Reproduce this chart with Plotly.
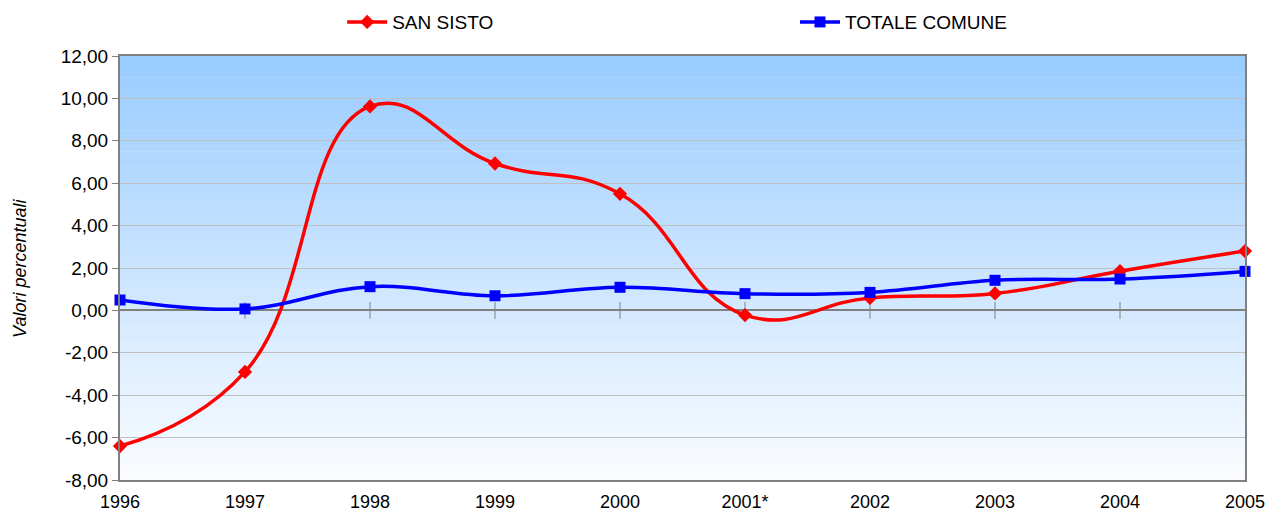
import plotly.graph_objects as go

years = ["1996", "1997", "1998", "1999", "2000", "2001*", "2002", "2003", "2004", "2005"]
san_sisto = [-6.40, -2.90, 9.62, 6.93, 5.50, -0.22, 0.59, 0.80, 1.85, 2.80]
totale_comune = [0.49, 0.07, 1.12, 0.69, 1.09, 0.79, 0.85, 1.42, 1.48, 1.84]
y_ticks = [-8, -6, -4, -2, 0, 2, 4, 6, 8, 10, 12]
y_ticktext = ["-8,00", "-6,00", "-4,00", "-2,00", "0,00", "2,00", "4,00", "6,00", "8,00", "10,00", "12,00"]

xs = list(range(len(years)))
FONT = "Liberation Sans, Arial, sans-serif"
FS = 19

fig = go.Figure()

# cross tick marks on the zero line
fig.add_trace(go.Scatter(
    x=xs[1:-1], y=[0] * (len(xs) - 2), mode="markers",
    marker=dict(symbol="line-ns", size=12, line=dict(color="#808080", width=1)),
    showlegend=False, hoverinfo="skip", cliponaxis=False))

fig.add_trace(go.Scatter(
    x=xs, y=san_sisto, name="SAN SISTO", mode="lines+markers",
    line=dict(color="#FF0000", width=3.5, shape="spline", smoothing=1.3),
    marker=dict(symbol="diamond", size=11, color="#FF0000"),
    cliponaxis=False, legend="legend"))

fig.add_trace(go.Scatter(
    x=xs, y=totale_comune, name="TOTALE COMUNE", mode="lines+markers",
    line=dict(color="#0000FF", width=3.5, shape="spline", smoothing=1.1),
    marker=dict(symbol="square", size=11, color="#0000FF"),
    cliponaxis=False, legend="legend2"))

# vertical gradient background of the plot area
shapes = []
n = 80
top = (153, 204, 255)
bot = (250, 252, 255)
for i in range(n):
    f = i / (n - 1)
    c = tuple(round(top[k] + (bot[k] - top[k]) * f) for k in range(3))
    y1 = 1 - i / n
    y0 = 1 - (i + 1) / n
    shapes.append(dict(type="rect", xref="paper", yref="paper", x0=0, x1=1,
                       y0=y0 - 0.001, y1=y1, fillcolor="rgb(%d,%d,%d)" % c,
                       line=dict(width=0), layer="below"))

legend_common = dict(orientation="h", yanchor="middle", xanchor="left", y=1.08,
                     font=dict(family=FONT, size=FS), bgcolor="rgba(0,0,0,0)",
                     itemwidth=40)

fig.update_layout(
    width=1269, height=518,
    margin=dict(l=120, r=24, t=56, b=38, autoexpand=False),
    paper_bgcolor="white",
    plot_bgcolor="rgba(0,0,0,0)",
    shapes=shapes,
    font=dict(family=FONT, size=FS, color="black"),
    showlegend=True,
    legend=dict(x=0.1975, **legend_common),
    legend2=dict(x=0.6, **legend_common),
    annotations=[dict(text="Valori percentuali", xref="paper", yref="paper",
                      x=-0.089, y=0.5, xanchor="center", yanchor="middle",
                      textangle=-90, showarrow=False,
                      font=dict(family=FONT, size=FS - 1, style="italic"))],
    xaxis=dict(range=[0, 9], tickvals=xs, ticktext=years, showgrid=False,
               zeroline=False, showline=True, linecolor="#808080", linewidth=2,
               mirror=True, ticks="", automargin=False, ticklabelstandoff=4,
               tickfont=dict(family=FONT, size=FS - 1)),
    yaxis=dict(range=[-8, 12], tickvals=y_ticks, ticktext=y_ticktext,
               showgrid=True, gridcolor="#C0C0C0", gridwidth=1,
               zeroline=True, zerolinecolor="#808080", zerolinewidth=1.5,
               showline=True, linecolor="#808080", linewidth=2, mirror=True,
               ticks="outside", ticklen=6, tickcolor="#808080", automargin=False,
               tickfont=dict(family=FONT, size=FS)),
)

fig.write_html("out.html", config={"displayModeBar": False},
               post_script="document.body.style.margin='0';document.body.style.padding='0';")
